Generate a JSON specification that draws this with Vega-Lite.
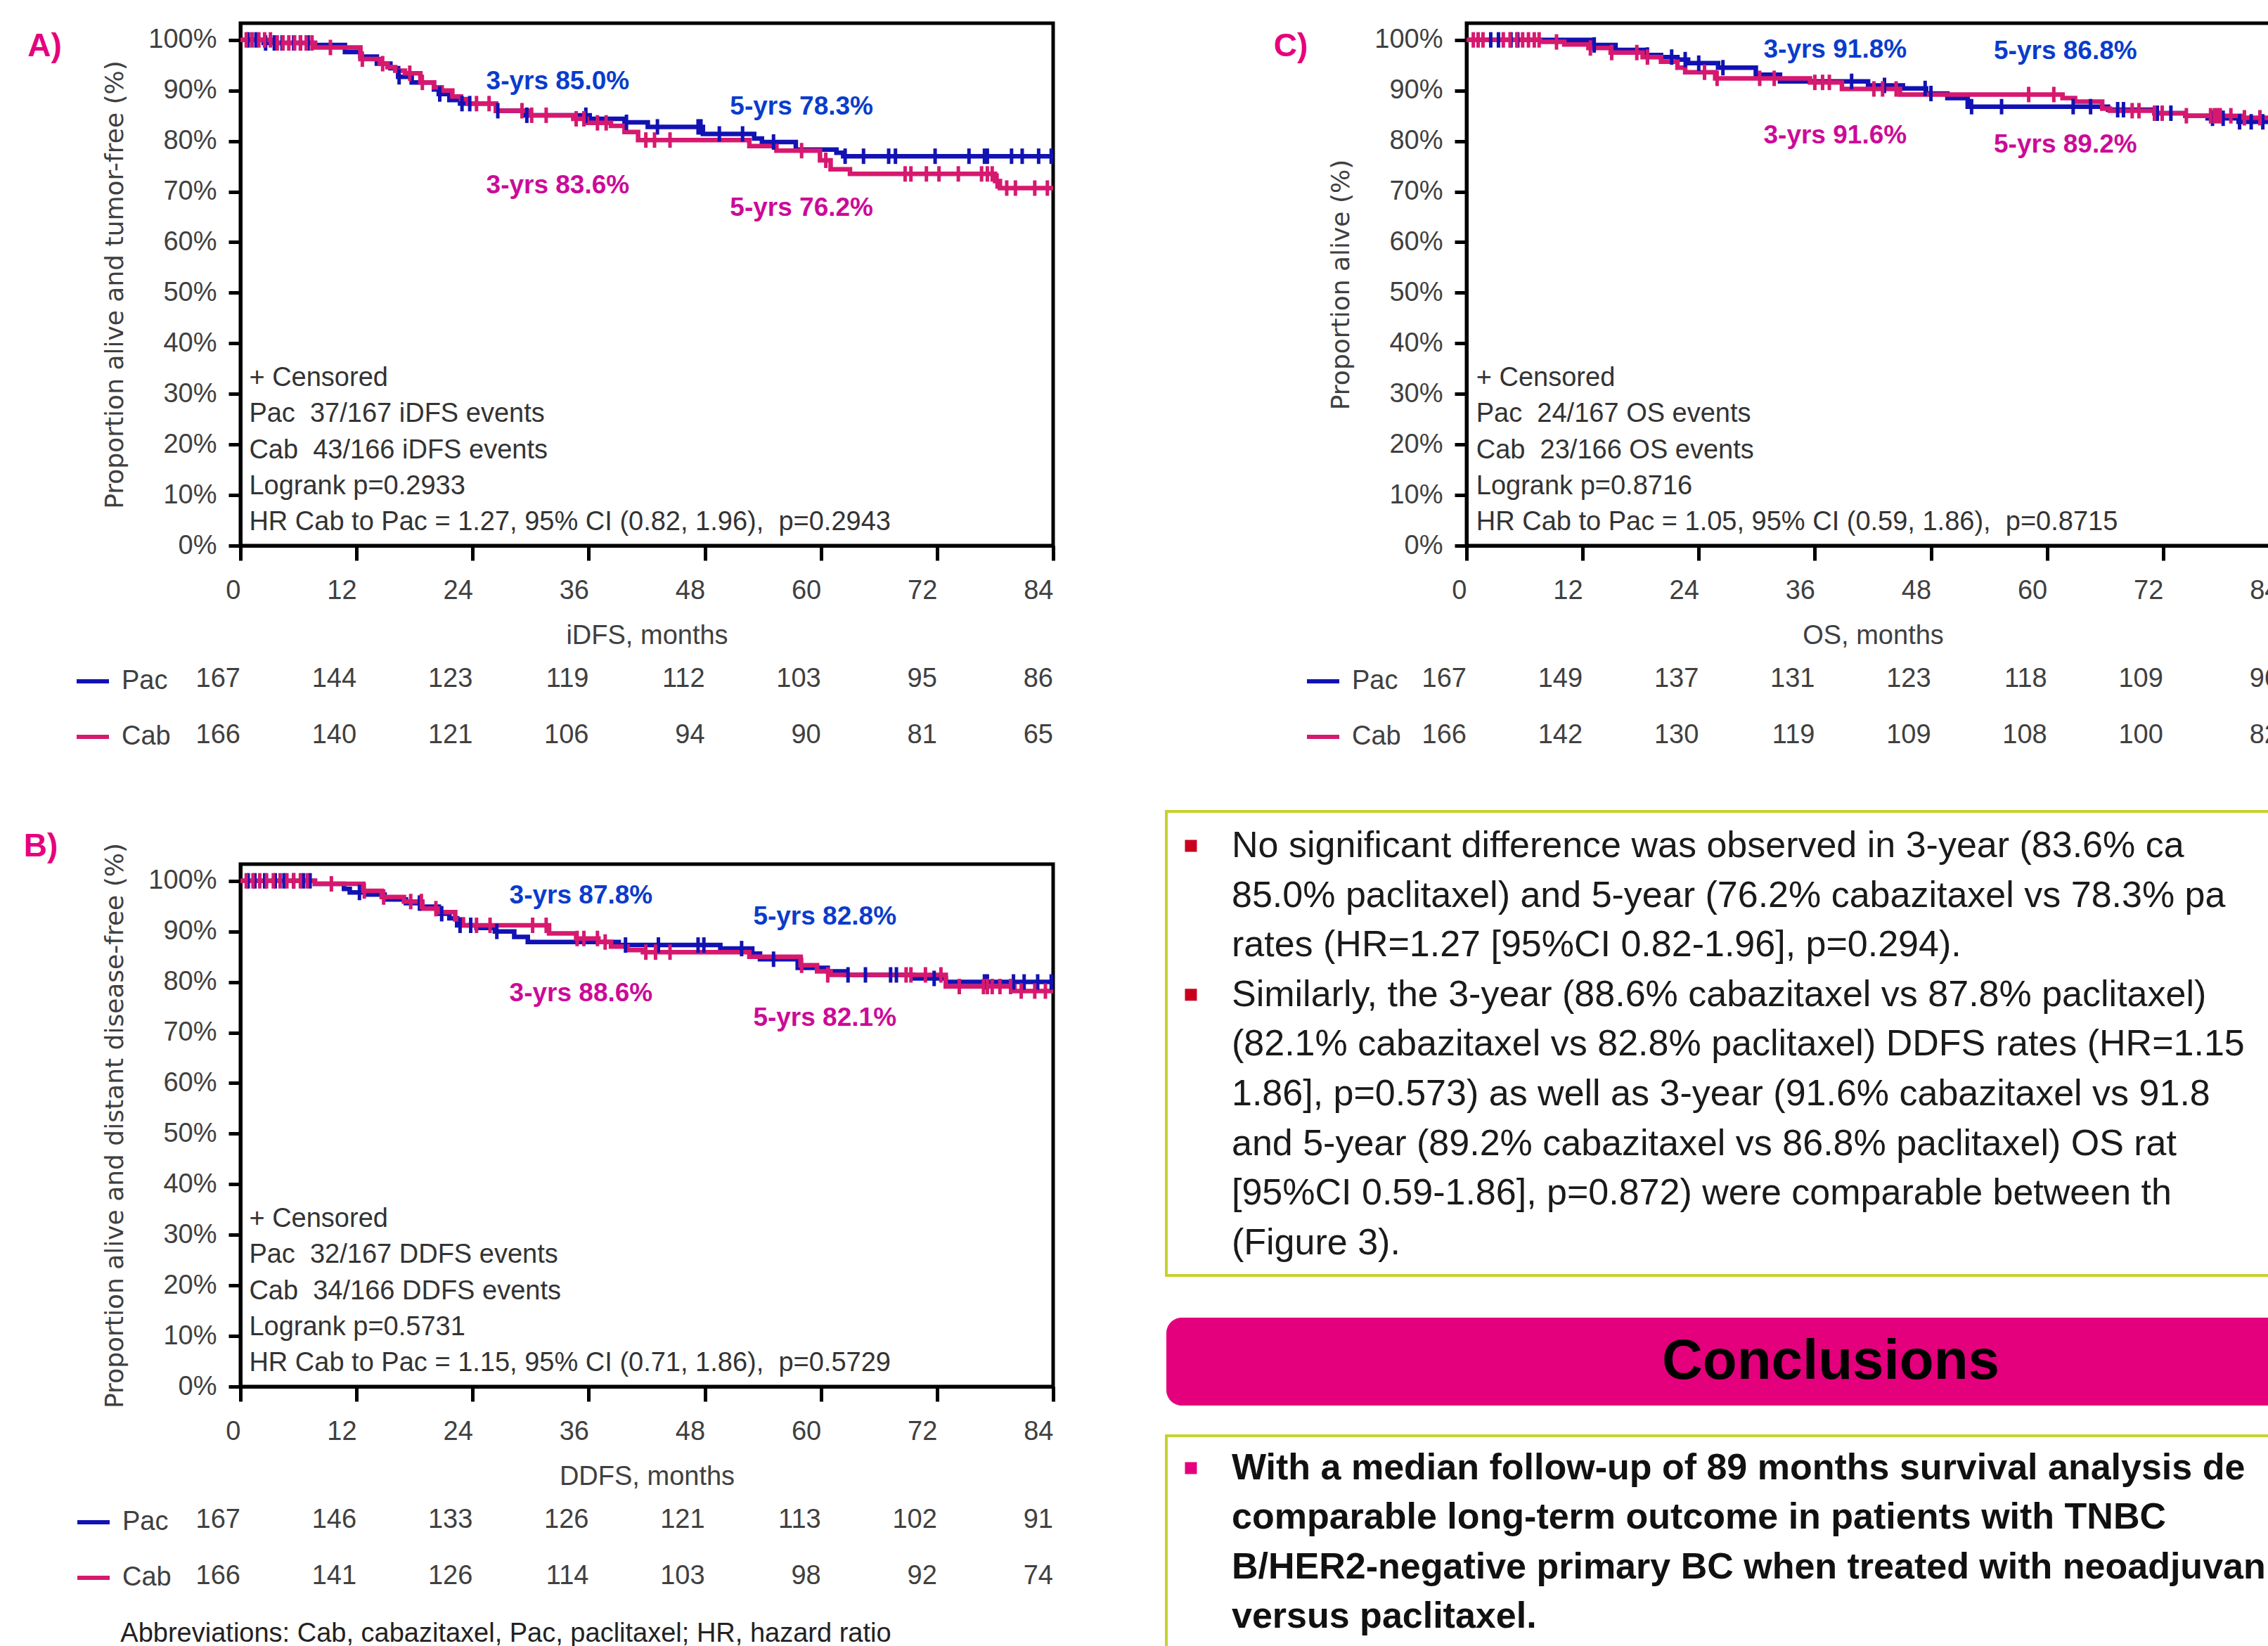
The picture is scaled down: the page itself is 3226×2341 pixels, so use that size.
{
  "$schema": "https://vega.github.io/schema/vega-lite/v6.json",
  "background": "white",
  "padding": {"left": 31, "top": 30, "right": 0, "bottom": 0},
  "config": {"view": {"stroke": null}},
  "datasets": {
    "km": [
      {"p":"A","arm":"Pac","t":0,"s":100},{"p":"A","arm":"Pac","t":2.4,"s":99.4},{"p":"A","arm":"Pac","t":7.7,"s":99.0},{"p":"A","arm":"Pac","t":10.8,"s":97.6},{"p":"A","arm":"Pac","t":12.4,"s":96.7},{"p":"A","arm":"Pac","t":14.1,"s":95.3},{"p":"A","arm":"Pac","t":15.5,"s":94.4},{"p":"A","arm":"Pac","t":16.3,"s":92.7},{"p":"A","arm":"Pac","t":17.7,"s":91.6},{"p":"A","arm":"Pac","t":20.0,"s":90.2},{"p":"A","arm":"Pac","t":20.5,"s":89.3},{"p":"A","arm":"Pac","t":21.6,"s":88.1},{"p":"A","arm":"Pac","t":22.7,"s":87.4},{"p":"A","arm":"Pac","t":26.4,"s":86.0},{"p":"A","arm":"Pac","t":29.4,"s":85.1},{"p":"A","arm":"Pac","t":36.1,"s":84.4},{"p":"A","arm":"Pac","t":39.7,"s":83.7},{"p":"A","arm":"Pac","t":42.1,"s":82.8},{"p":"A","arm":"Pac","t":47.8,"s":81.4},{"p":"A","arm":"Pac","t":53.1,"s":80.5},{"p":"A","arm":"Pac","t":53.9,"s":79.8},{"p":"A","arm":"Pac","t":57.4,"s":78.3},{"p":"A","arm":"Pac","t":61.6,"s":77.7},{"p":"A","arm":"Pac","t":62.3,"s":77.0},{"p":"A","arm":"Pac","t":84,"s":77.0},
      {"p":"A","arm":"Cab","t":0,"s":100},{"p":"A","arm":"Cab","t":3.5,"s":99.4},{"p":"A","arm":"Cab","t":7.7,"s":98.5},{"p":"A","arm":"Cab","t":12.4,"s":96.2},{"p":"A","arm":"Cab","t":14.4,"s":95.3},{"p":"A","arm":"Cab","t":15.2,"s":94.6},{"p":"A","arm":"Cab","t":16.0,"s":93.9},{"p":"A","arm":"Cab","t":17.0,"s":93.4},{"p":"A","arm":"Cab","t":18.6,"s":91.6},{"p":"A","arm":"Cab","t":20.0,"s":90.6},{"p":"A","arm":"Cab","t":20.8,"s":90.0},{"p":"A","arm":"Cab","t":21.9,"s":88.8},{"p":"A","arm":"Cab","t":22.8,"s":88.3},{"p":"A","arm":"Cab","t":23.5,"s":87.4},{"p":"A","arm":"Cab","t":26.4,"s":86.0},{"p":"A","arm":"Cab","t":29.7,"s":85.1},{"p":"A","arm":"Cab","t":34.4,"s":84.4},{"p":"A","arm":"Cab","t":35.8,"s":83.6},{"p":"A","arm":"Cab","t":38.3,"s":83.0},{"p":"A","arm":"Cab","t":39.7,"s":81.8},{"p":"A","arm":"Cab","t":41.1,"s":80.2},{"p":"A","arm":"Cab","t":52.6,"s":79.0},{"p":"A","arm":"Cab","t":55.4,"s":78.1},{"p":"A","arm":"Cab","t":59.9,"s":76.2},{"p":"A","arm":"Cab","t":61.0,"s":74.4},{"p":"A","arm":"Cab","t":63.0,"s":73.5},{"p":"A","arm":"Cab","t":78.0,"s":72.1},{"p":"A","arm":"Cab","t":78.5,"s":70.7},{"p":"A","arm":"Cab","t":84,"s":70.7},
      {"p":"B","arm":"Pac","t":0,"s":100},{"p":"B","arm":"Pac","t":7.7,"s":99.4},{"p":"B","arm":"Pac","t":10.7,"s":98.4},{"p":"B","arm":"Pac","t":11.3,"s":97.7},{"p":"B","arm":"Pac","t":12.9,"s":97.3},{"p":"B","arm":"Pac","t":14.9,"s":96.3},{"p":"B","arm":"Pac","t":17.1,"s":95.6},{"p":"B","arm":"Pac","t":18.8,"s":94.9},{"p":"B","arm":"Pac","t":20.5,"s":93.5},{"p":"B","arm":"Pac","t":21.6,"s":92.6},{"p":"B","arm":"Pac","t":22.4,"s":91.2},{"p":"B","arm":"Pac","t":24.4,"s":90.7},{"p":"B","arm":"Pac","t":26.3,"s":90.0},{"p":"B","arm":"Pac","t":28.3,"s":88.9},{"p":"B","arm":"Pac","t":29.7,"s":87.9},{"p":"B","arm":"Pac","t":39.1,"s":87.3},{"p":"B","arm":"Pac","t":49.6,"s":86.6},{"p":"B","arm":"Pac","t":52.9,"s":85.6},{"p":"B","arm":"Pac","t":53.7,"s":84.5},{"p":"B","arm":"Pac","t":57.6,"s":82.8},{"p":"B","arm":"Pac","t":60.7,"s":82.1},{"p":"B","arm":"Pac","t":62.6,"s":81.4},{"p":"B","arm":"Pac","t":69.6,"s":80.7},{"p":"B","arm":"Pac","t":72.9,"s":80.0},{"p":"B","arm":"Pac","t":84,"s":80.0},
      {"p":"B","arm":"Cab","t":0,"s":100},{"p":"B","arm":"Cab","t":7.7,"s":99.4},{"p":"B","arm":"Cab","t":12.7,"s":98.0},{"p":"B","arm":"Cab","t":14.6,"s":96.8},{"p":"B","arm":"Cab","t":16.9,"s":95.9},{"p":"B","arm":"Cab","t":18.8,"s":94.5},{"p":"B","arm":"Cab","t":20.5,"s":93.8},{"p":"B","arm":"Cab","t":22.2,"s":92.4},{"p":"B","arm":"Cab","t":23.0,"s":91.2},{"p":"B","arm":"Cab","t":31.9,"s":89.6},{"p":"B","arm":"Cab","t":34.7,"s":88.6},{"p":"B","arm":"Cab","t":37.0,"s":87.9},{"p":"B","arm":"Cab","t":38.3,"s":87.0},{"p":"B","arm":"Cab","t":40.0,"s":86.3},{"p":"B","arm":"Cab","t":41.6,"s":85.9},{"p":"B","arm":"Cab","t":52.6,"s":85.0},{"p":"B","arm":"Cab","t":57.9,"s":83.3},{"p":"B","arm":"Cab","t":59.6,"s":82.1},{"p":"B","arm":"Cab","t":61.0,"s":81.4},{"p":"B","arm":"Cab","t":72.9,"s":79.1},{"p":"B","arm":"Cab","t":80.0,"s":78.2},{"p":"B","arm":"Cab","t":84,"s":78.2},
      {"p":"C","arm":"Pac","t":0,"s":100},{"p":"C","arm":"Pac","t":12.9,"s":99.0},{"p":"C","arm":"Pac","t":15.4,"s":98.0},{"p":"C","arm":"Pac","t":18.5,"s":97.0},{"p":"C","arm":"Pac","t":20.1,"s":96.6},{"p":"C","arm":"Pac","t":21.8,"s":96.1},{"p":"C","arm":"Pac","t":22.9,"s":95.4},{"p":"C","arm":"Pac","t":26.0,"s":94.5},{"p":"C","arm":"Pac","t":29.9,"s":93.1},{"p":"C","arm":"Pac","t":32.4,"s":91.8},{"p":"C","arm":"Pac","t":41.5,"s":91.0},{"p":"C","arm":"Pac","t":45.1,"s":90.4},{"p":"C","arm":"Pac","t":47.5,"s":89.4},{"p":"C","arm":"Pac","t":49.7,"s":88.5},{"p":"C","arm":"Pac","t":51.8,"s":86.8},{"p":"C","arm":"Pac","t":66.3,"s":86.2},{"p":"C","arm":"Pac","t":71.1,"s":85.5},{"p":"C","arm":"Pac","t":74.3,"s":85.0},{"p":"C","arm":"Pac","t":76.6,"s":84.5},{"p":"C","arm":"Pac","t":79.8,"s":83.8},{"p":"C","arm":"Pac","t":84,"s":83.8},
      {"p":"C","arm":"Cab","t":0,"s":100},{"p":"C","arm":"Cab","t":7.6,"s":99.6},{"p":"C","arm":"Cab","t":10.1,"s":99.1},{"p":"C","arm":"Cab","t":12.6,"s":98.4},{"p":"C","arm":"Cab","t":14.9,"s":97.5},{"p":"C","arm":"Cab","t":18.2,"s":96.6},{"p":"C","arm":"Cab","t":20.1,"s":95.7},{"p":"C","arm":"Cab","t":21.8,"s":94.5},{"p":"C","arm":"Cab","t":22.6,"s":93.6},{"p":"C","arm":"Cab","t":25.7,"s":92.4},{"p":"C","arm":"Cab","t":35.5,"s":91.6},{"p":"C","arm":"Cab","t":38.8,"s":90.3},{"p":"C","arm":"Cab","t":44.8,"s":89.2},{"p":"C","arm":"Cab","t":61.6,"s":88.5},{"p":"C","arm":"Cab","t":62.9,"s":87.8},{"p":"C","arm":"Cab","t":65.7,"s":86.4},{"p":"C","arm":"Cab","t":66.5,"s":86.0},{"p":"C","arm":"Cab","t":71.1,"s":85.5},{"p":"C","arm":"Cab","t":74.3,"s":85.0},{"p":"C","arm":"Cab","t":80.0,"s":84.6},{"p":"C","arm":"Cab","t":84,"s":84.6}
    ],
    "cens": [
      {"p":"A","arm":"Pac","t":0.8,"s":100},{"p":"A","arm":"Pac","t":1.6,"s":100},{"p":"A","arm":"Pac","t":2.6,"s":99.4},{"p":"A","arm":"Pac","t":3.5,"s":99.4},{"p":"A","arm":"Pac","t":4.3,"s":99.4},{"p":"A","arm":"Pac","t":5.5,"s":99.4},{"p":"A","arm":"Pac","t":6.2,"s":99.4},{"p":"A","arm":"Pac","t":7.0,"s":99.4},{"p":"A","arm":"Pac","t":16.4,"s":92.7},{"p":"A","arm":"Pac","t":20.6,"s":89.3},{"p":"A","arm":"Pac","t":22.9,"s":87.4},{"p":"A","arm":"Pac","t":23.7,"s":87.4},{"p":"A","arm":"Pac","t":26.6,"s":86.0},{"p":"A","arm":"Pac","t":29.6,"s":85.1},{"p":"A","arm":"Pac","t":35.7,"s":85.1},{"p":"A","arm":"Pac","t":39.9,"s":83.7},{"p":"A","arm":"Pac","t":43.1,"s":82.8},{"p":"A","arm":"Pac","t":47.3,"s":82.8},{"p":"A","arm":"Pac","t":47.6,"s":82.8},{"p":"A","arm":"Pac","t":49.5,"s":81.4},{"p":"A","arm":"Pac","t":51.9,"s":81.4},{"p":"A","arm":"Pac","t":55.1,"s":79.8},{"p":"A","arm":"Pac","t":62.5,"s":77.0},{"p":"A","arm":"Pac","t":64.4,"s":77.0},{"p":"A","arm":"Pac","t":67.0,"s":77.0},{"p":"A","arm":"Pac","t":67.7,"s":77.0},{"p":"A","arm":"Pac","t":71.8,"s":77.0},{"p":"A","arm":"Pac","t":75.3,"s":77.0},{"p":"A","arm":"Pac","t":76.9,"s":77.0},{"p":"A","arm":"Pac","t":77.2,"s":77.0},{"p":"A","arm":"Pac","t":79.7,"s":77.0},{"p":"A","arm":"Pac","t":80.8,"s":77.0},{"p":"A","arm":"Pac","t":82.5,"s":77.0},{"p":"A","arm":"Pac","t":83.8,"s":77.0},
      {"p":"A","arm":"Cab","t":0.6,"s":100},{"p":"A","arm":"Cab","t":1.2,"s":100},{"p":"A","arm":"Cab","t":1.9,"s":100},{"p":"A","arm":"Cab","t":2.5,"s":100},{"p":"A","arm":"Cab","t":3.1,"s":100},{"p":"A","arm":"Cab","t":3.8,"s":99.4},{"p":"A","arm":"Cab","t":4.4,"s":99.4},{"p":"A","arm":"Cab","t":5.0,"s":99.4},{"p":"A","arm":"Cab","t":5.6,"s":99.4},{"p":"A","arm":"Cab","t":6.2,"s":99.4},{"p":"A","arm":"Cab","t":6.8,"s":99.4},{"p":"A","arm":"Cab","t":7.4,"s":99.4},{"p":"A","arm":"Cab","t":9.3,"s":98.5},{"p":"A","arm":"Cab","t":12.6,"s":96.2},{"p":"A","arm":"Cab","t":14.7,"s":95.3},{"p":"A","arm":"Cab","t":17.5,"s":93.4},{"p":"A","arm":"Cab","t":18.8,"s":91.6},{"p":"A","arm":"Cab","t":24.4,"s":87.4},{"p":"A","arm":"Cab","t":25.7,"s":87.4},{"p":"A","arm":"Cab","t":29.1,"s":86.0},{"p":"A","arm":"Cab","t":30.1,"s":85.1},{"p":"A","arm":"Cab","t":31.6,"s":85.1},{"p":"A","arm":"Cab","t":34.7,"s":84.4},{"p":"A","arm":"Cab","t":35.5,"s":84.4},{"p":"A","arm":"Cab","t":36.9,"s":83.6},{"p":"A","arm":"Cab","t":37.8,"s":83.6},{"p":"A","arm":"Cab","t":41.9,"s":80.2},{"p":"A","arm":"Cab","t":42.8,"s":80.2},{"p":"A","arm":"Cab","t":44.4,"s":80.2},{"p":"A","arm":"Cab","t":58.0,"s":78.1},{"p":"A","arm":"Cab","t":60.5,"s":76.2},{"p":"A","arm":"Cab","t":68.7,"s":73.5},{"p":"A","arm":"Cab","t":69.3,"s":73.5},{"p":"A","arm":"Cab","t":70.9,"s":73.5},{"p":"A","arm":"Cab","t":72.2,"s":73.5},{"p":"A","arm":"Cab","t":74.2,"s":73.5},{"p":"A","arm":"Cab","t":76.6,"s":73.5},{"p":"A","arm":"Cab","t":77.2,"s":73.5},{"p":"A","arm":"Cab","t":77.7,"s":73.5},{"p":"A","arm":"Cab","t":78.2,"s":72.1},{"p":"A","arm":"Cab","t":79.2,"s":70.7},{"p":"A","arm":"Cab","t":80.1,"s":70.7},{"p":"A","arm":"Cab","t":82.1,"s":70.7},{"p":"A","arm":"Cab","t":83.4,"s":70.7},
      {"p":"B","arm":"Pac","t":0.8,"s":100},{"p":"B","arm":"Pac","t":1.5,"s":100},{"p":"B","arm":"Pac","t":2.5,"s":100},{"p":"B","arm":"Pac","t":3.6,"s":100},{"p":"B","arm":"Pac","t":4.5,"s":100},{"p":"B","arm":"Pac","t":5.5,"s":100},{"p":"B","arm":"Pac","t":6.5,"s":100},{"p":"B","arm":"Pac","t":7.2,"s":100},{"p":"B","arm":"Pac","t":12.3,"s":97.7},{"p":"B","arm":"Pac","t":18.5,"s":95.6},{"p":"B","arm":"Pac","t":20.8,"s":93.5},{"p":"B","arm":"Pac","t":22.7,"s":91.2},{"p":"B","arm":"Pac","t":23.8,"s":91.2},{"p":"B","arm":"Pac","t":26.5,"s":90.0},{"p":"B","arm":"Pac","t":39.8,"s":87.3},{"p":"B","arm":"Pac","t":43.2,"s":87.3},{"p":"B","arm":"Pac","t":47.3,"s":87.3},{"p":"B","arm":"Pac","t":47.9,"s":87.3},{"p":"B","arm":"Pac","t":51.8,"s":86.6},{"p":"B","arm":"Pac","t":55.1,"s":84.5},{"p":"B","arm":"Pac","t":62.8,"s":81.4},{"p":"B","arm":"Pac","t":64.6,"s":81.4},{"p":"B","arm":"Pac","t":67.2,"s":81.4},{"p":"B","arm":"Pac","t":67.8,"s":81.4},{"p":"B","arm":"Pac","t":71.7,"s":80.7},{"p":"B","arm":"Pac","t":76.9,"s":80.0},{"p":"B","arm":"Pac","t":77.2,"s":80.0},{"p":"B","arm":"Pac","t":79.9,"s":80.0},{"p":"B","arm":"Pac","t":81.0,"s":80.0},{"p":"B","arm":"Pac","t":82.4,"s":80.0},{"p":"B","arm":"Pac","t":83.8,"s":80.0},
      {"p":"B","arm":"Cab","t":0.6,"s":100},{"p":"B","arm":"Cab","t":1.3,"s":100},{"p":"B","arm":"Cab","t":2.0,"s":100},{"p":"B","arm":"Cab","t":2.7,"s":100},{"p":"B","arm":"Cab","t":3.4,"s":100},{"p":"B","arm":"Cab","t":4.1,"s":100},{"p":"B","arm":"Cab","t":4.8,"s":100},{"p":"B","arm":"Cab","t":5.5,"s":100},{"p":"B","arm":"Cab","t":6.2,"s":100},{"p":"B","arm":"Cab","t":6.9,"s":100},{"p":"B","arm":"Cab","t":9.4,"s":99.4},{"p":"B","arm":"Cab","t":12.8,"s":98.0},{"p":"B","arm":"Cab","t":14.8,"s":96.8},{"p":"B","arm":"Cab","t":17.6,"s":95.9},{"p":"B","arm":"Cab","t":18.7,"s":95.9},{"p":"B","arm":"Cab","t":20.2,"s":94.5},{"p":"B","arm":"Cab","t":24.4,"s":91.2},{"p":"B","arm":"Cab","t":25.8,"s":91.2},{"p":"B","arm":"Cab","t":30.2,"s":91.2},{"p":"B","arm":"Cab","t":31.6,"s":91.2},{"p":"B","arm":"Cab","t":34.8,"s":88.6},{"p":"B","arm":"Cab","t":35.5,"s":88.6},{"p":"B","arm":"Cab","t":36.9,"s":88.6},{"p":"B","arm":"Cab","t":37.7,"s":87.9},{"p":"B","arm":"Cab","t":41.9,"s":85.9},{"p":"B","arm":"Cab","t":42.9,"s":85.9},{"p":"B","arm":"Cab","t":44.4,"s":85.9},{"p":"B","arm":"Cab","t":58.0,"s":83.3},{"p":"B","arm":"Cab","t":60.7,"s":81.4},{"p":"B","arm":"Cab","t":68.8,"s":81.4},{"p":"B","arm":"Cab","t":69.3,"s":81.4},{"p":"B","arm":"Cab","t":70.8,"s":81.4},{"p":"B","arm":"Cab","t":72.4,"s":81.4},{"p":"B","arm":"Cab","t":74.3,"s":79.1},{"p":"B","arm":"Cab","t":76.8,"s":79.1},{"p":"B","arm":"Cab","t":77.2,"s":79.1},{"p":"B","arm":"Cab","t":77.7,"s":79.1},{"p":"B","arm":"Cab","t":78.5,"s":79.1},{"p":"B","arm":"Cab","t":79.6,"s":79.1},{"p":"B","arm":"Cab","t":80.7,"s":78.2},{"p":"B","arm":"Cab","t":82.1,"s":78.2},{"p":"B","arm":"Cab","t":83.2,"s":78.2},
      {"p":"C","arm":"Pac","t":2.5,"s":100},{"p":"C","arm":"Pac","t":3.3,"s":100},{"p":"C","arm":"Pac","t":4.6,"s":100},{"p":"C","arm":"Pac","t":5.3,"s":100},{"p":"C","arm":"Pac","t":13.2,"s":99.0},{"p":"C","arm":"Pac","t":18.7,"s":97.0},{"p":"C","arm":"Pac","t":21.2,"s":96.6},{"p":"C","arm":"Pac","t":22.6,"s":96.1},{"p":"C","arm":"Pac","t":24.0,"s":95.4},{"p":"C","arm":"Pac","t":26.5,"s":94.5},{"p":"C","arm":"Pac","t":39.8,"s":91.8},{"p":"C","arm":"Pac","t":43.2,"s":91.0},{"p":"C","arm":"Pac","t":47.4,"s":90.4},{"p":"C","arm":"Pac","t":48.0,"s":89.4},{"p":"C","arm":"Pac","t":52.2,"s":86.8},{"p":"C","arm":"Pac","t":55.3,"s":86.8},{"p":"C","arm":"Pac","t":62.7,"s":86.8},{"p":"C","arm":"Pac","t":64.5,"s":86.8},{"p":"C","arm":"Pac","t":67.3,"s":86.2},{"p":"C","arm":"Pac","t":67.9,"s":86.2},{"p":"C","arm":"Pac","t":71.4,"s":85.5},{"p":"C","arm":"Pac","t":72.8,"s":85.5},{"p":"C","arm":"Pac","t":77.1,"s":84.5},{"p":"C","arm":"Pac","t":78.2,"s":84.5},{"p":"C","arm":"Pac","t":79.9,"s":83.8},{"p":"C","arm":"Pac","t":81.1,"s":83.8},{"p":"C","arm":"Pac","t":82.3,"s":83.8},{"p":"C","arm":"Pac","t":83.5,"s":83.8},
      {"p":"C","arm":"Cab","t":0.7,"s":100},{"p":"C","arm":"Cab","t":1.2,"s":100},{"p":"C","arm":"Cab","t":1.7,"s":100},{"p":"C","arm":"Cab","t":3.8,"s":100},{"p":"C","arm":"Cab","t":4.5,"s":100},{"p":"C","arm":"Cab","t":5.2,"s":100},{"p":"C","arm":"Cab","t":5.8,"s":100},{"p":"C","arm":"Cab","t":6.4,"s":100},{"p":"C","arm":"Cab","t":7.0,"s":100},{"p":"C","arm":"Cab","t":7.5,"s":100},{"p":"C","arm":"Cab","t":9.3,"s":99.6},{"p":"C","arm":"Cab","t":12.8,"s":98.4},{"p":"C","arm":"Cab","t":15.0,"s":97.5},{"p":"C","arm":"Cab","t":17.6,"s":97.5},{"p":"C","arm":"Cab","t":18.7,"s":96.6},{"p":"C","arm":"Cab","t":24.6,"s":93.6},{"p":"C","arm":"Cab","t":25.9,"s":92.4},{"p":"C","arm":"Cab","t":30.3,"s":92.4},{"p":"C","arm":"Cab","t":31.8,"s":92.4},{"p":"C","arm":"Cab","t":36.0,"s":91.6},{"p":"C","arm":"Cab","t":36.8,"s":91.6},{"p":"C","arm":"Cab","t":37.5,"s":91.6},{"p":"C","arm":"Cab","t":42.1,"s":90.3},{"p":"C","arm":"Cab","t":43.0,"s":90.3},{"p":"C","arm":"Cab","t":44.4,"s":90.3},{"p":"C","arm":"Cab","t":58.1,"s":89.2},{"p":"C","arm":"Cab","t":60.7,"s":89.2},{"p":"C","arm":"Cab","t":68.8,"s":86.0},{"p":"C","arm":"Cab","t":69.5,"s":86.0},{"p":"C","arm":"Cab","t":71.1,"s":85.5},{"p":"C","arm":"Cab","t":71.9,"s":85.5},{"p":"C","arm":"Cab","t":74.4,"s":85.0},{"p":"C","arm":"Cab","t":76.9,"s":85.0},{"p":"C","arm":"Cab","t":77.3,"s":85.0},{"p":"C","arm":"Cab","t":77.6,"s":85.0},{"p":"C","arm":"Cab","t":77.9,"s":85.0},{"p":"C","arm":"Cab","t":79.0,"s":85.0},{"p":"C","arm":"Cab","t":80.4,"s":84.6},{"p":"C","arm":"Cab","t":82.0,"s":84.6},{"p":"C","arm":"Cab","t":83.5,"s":84.6}
    ],
    "risk": [
      {"p":"A","arm":"Pac","t":0,"n":167},{"p":"A","arm":"Pac","t":12,"n":144},{"p":"A","arm":"Pac","t":24,"n":123},{"p":"A","arm":"Pac","t":36,"n":119},{"p":"A","arm":"Pac","t":48,"n":112},{"p":"A","arm":"Pac","t":60,"n":103},{"p":"A","arm":"Pac","t":72,"n":95},{"p":"A","arm":"Pac","t":84,"n":86},
      {"p":"A","arm":"Cab","t":0,"n":166},{"p":"A","arm":"Cab","t":12,"n":140},{"p":"A","arm":"Cab","t":24,"n":121},{"p":"A","arm":"Cab","t":36,"n":106},{"p":"A","arm":"Cab","t":48,"n":94},{"p":"A","arm":"Cab","t":60,"n":90},{"p":"A","arm":"Cab","t":72,"n":81},{"p":"A","arm":"Cab","t":84,"n":65},
      {"p":"B","arm":"Pac","t":0,"n":167},{"p":"B","arm":"Pac","t":12,"n":146},{"p":"B","arm":"Pac","t":24,"n":133},{"p":"B","arm":"Pac","t":36,"n":126},{"p":"B","arm":"Pac","t":48,"n":121},{"p":"B","arm":"Pac","t":60,"n":113},{"p":"B","arm":"Pac","t":72,"n":102},{"p":"B","arm":"Pac","t":84,"n":91},
      {"p":"B","arm":"Cab","t":0,"n":166},{"p":"B","arm":"Cab","t":12,"n":141},{"p":"B","arm":"Cab","t":24,"n":126},{"p":"B","arm":"Cab","t":36,"n":114},{"p":"B","arm":"Cab","t":48,"n":103},{"p":"B","arm":"Cab","t":60,"n":98},{"p":"B","arm":"Cab","t":72,"n":92},{"p":"B","arm":"Cab","t":84,"n":74},
      {"p":"C","arm":"Pac","t":0,"n":167},{"p":"C","arm":"Pac","t":12,"n":149},{"p":"C","arm":"Pac","t":24,"n":137},{"p":"C","arm":"Pac","t":36,"n":131},{"p":"C","arm":"Pac","t":48,"n":123},{"p":"C","arm":"Pac","t":60,"n":118},{"p":"C","arm":"Pac","t":72,"n":109},{"p":"C","arm":"Pac","t":84,"n":96},
      {"p":"C","arm":"Cab","t":0,"n":166},{"p":"C","arm":"Cab","t":12,"n":142},{"p":"C","arm":"Cab","t":24,"n":130},{"p":"C","arm":"Cab","t":36,"n":119},{"p":"C","arm":"Cab","t":48,"n":109},{"p":"C","arm":"Cab","t":60,"n":108},{"p":"C","arm":"Cab","t":72,"n":100},{"p":"C","arm":"Cab","t":84,"n":82}
    ],
    "ann": [
      {"p":"A","arm":"Pac","t":25.4,"s":91.7,"txt":"3-yrs 85.0%"},{"p":"A","arm":"Cab","t":25.4,"s":71.25,"txt":"3-yrs 83.6%"},{"p":"A","arm":"Pac","t":50.6,"s":86.8,"txt":"5-yrs 78.3%"},{"p":"A","arm":"Cab","t":50.6,"s":66.8,"txt":"5-yrs 76.2%"},
      {"p":"B","arm":"Pac","t":27.8,"s":97.1,"txt":"3-yrs 87.8%"},{"p":"B","arm":"Cab","t":27.8,"s":77.7,"txt":"3-yrs 88.6%"},{"p":"B","arm":"Pac","t":53.0,"s":92.9,"txt":"5-yrs 82.8%"},{"p":"B","arm":"Cab","t":53.0,"s":72.9,"txt":"5-yrs 82.1%"},
      {"p":"C","arm":"Pac","t":30.7,"s":98.0,"txt":"3-yrs 91.8%"},{"p":"C","arm":"Cab","t":30.7,"s":81.0,"txt":"3-yrs 91.6%"},{"p":"C","arm":"Pac","t":54.5,"s":97.7,"txt":"5-yrs 86.8%"},{"p":"C","arm":"Cab","t":54.5,"s":79.2,"txt":"5-yrs 89.2%"}
    ],
    "stats": [
      {"p":"A","t":0.9,"s":33.1,"txt":"+ Censored"},{"p":"A","t":0.9,"s":26.0,"txt":"Pac\u00a0 37/167 iDFS events"},{"p":"A","t":0.9,"s":18.8,"txt":"Cab\u00a0 43/166 iDFS events"},{"p":"A","t":0.9,"s":11.7,"txt":"Logrank p=0.2933"},{"p":"A","t":0.9,"s":4.6,"txt":"HR Cab to Pac = 1.27, 95% CI (0.82, 1.96),\u00a0 p=0.2943"},
      {"p":"B","t":0.9,"s":33.1,"txt":"+ Censored"},{"p":"B","t":0.9,"s":26.0,"txt":"Pac\u00a0 32/167 DDFS events"},{"p":"B","t":0.9,"s":18.8,"txt":"Cab\u00a0 34/166 DDFS events"},{"p":"B","t":0.9,"s":11.7,"txt":"Logrank p=0.5731"},{"p":"B","t":0.9,"s":4.6,"txt":"HR Cab to Pac = 1.15, 95% CI (0.71, 1.86),\u00a0 p=0.5729"},
      {"p":"C","t":1.0,"s":33.1,"txt":"+ Censored"},{"p":"C","t":1.0,"s":26.0,"txt":"Pac\u00a0 24/167 OS events"},{"p":"C","t":1.0,"s":18.8,"txt":"Cab\u00a0 23/166 OS events"},{"p":"C","t":1.0,"s":11.7,"txt":"Logrank p=0.8716"},{"p":"C","t":1.0,"s":4.6,"txt":"HR Cab to Pac = 1.05, 95% CI (0.59, 1.86),\u00a0 p=0.8715"}
    ],
    "letters": [
      {"p":"A","t":-22.0,"s":98.75,"txt":"A)"},{"p":"B","t":-22.4,"s":106.8,"txt":"B)"},{"p":"C","t":-19.93,"s":98.75,"txt":"C)"}
    ],
    "foot": [
      {"p":"B","t":-12.4,"s":-48.9,"txt":"Abbreviations: Cab, cabazitaxel, Pac, paclitaxel; HR, hazard ratio"}
    ],
    "box1": [
      {"line":1,"bullet":true,"txt":"No significant difference was observed in 3-year (83.6% ca"},
      {"line":2,"bullet":false,"txt":"85.0% paclitaxel) and 5-year (76.2% cabazitaxel vs 78.3% pa"},
      {"line":3,"bullet":false,"txt":"rates (HR=1.27 [95%CI 0.82-1.96], p=0.294)."},
      {"line":4,"bullet":true,"txt":"Similarly, the 3-year (88.6% cabazitaxel vs 87.8% paclitaxel)"},
      {"line":5,"bullet":false,"txt":"(82.1% cabazitaxel vs 82.8% paclitaxel) DDFS rates (HR=1.15"},
      {"line":6,"bullet":false,"txt":"1.86], p=0.573) as well as 3-year (91.6% cabazitaxel vs 91.8"},
      {"line":7,"bullet":false,"txt":"and 5-year (89.2% cabazitaxel vs 86.8% paclitaxel) OS rat"},
      {"line":8,"bullet":false,"txt":"[95%CI 0.59-1.86], p=0.872) were comparable between th"},
      {"line":9,"bullet":false,"txt":"(Figure 3)."}
    ],
    "box2": [
      {"line":1,"bullet":true,"txt":"With a median follow-up of 89 months survival analysis de"},
      {"line":2,"bullet":false,"txt":"comparable long-term outcome in patients with TNBC"},
      {"line":3,"bullet":false,"txt":"B/HER2-negative primary BC when treated with neoadjuvan"},
      {"line":4,"bullet":false,"txt":"versus paclitaxel."}
    ]
  },
  "resolve": {"scale": {"color": "independent"}, "legend": {"color": "independent"}},
  "spacing": 82,
  "vconcat": [
    {
      "resolve": {"scale": {"color": "independent"}, "legend": {"color": "independent"}},
      "spacing": 295,
      "hconcat": [
        {
          "width": 1156, "height": 743,
          "view": {"stroke": "#000000", "strokeWidth": 5},
          "resolve": {"scale": {"y": "independent"}, "axis": {"y": "independent"}},
          "layer": [
            {
              "layer": [
                {"data": {"name": "km"}, "transform": [{"filter": "datum.p == 'A'"}],
                 "mark": {"type": "line", "interpolate": "step-after", "strokeWidth": 6.5},
                 "encoding": {
                   "x": {"field": "t", "type": "quantitative", "scale": {"domain": [0, 84], "nice": false, "zero": false},
                         "axis": {"values": [0,12,24,36,48,60,72,84], "title": "iDFS, months", "grid": false, "tickSize": 21, "tickWidth": 5, "tickColor": "#000000", "domainColor": "#000000", "domainWidth": 5, "labelAlign": "right", "labelFlush": false, "labelOverlap": false, "labelFont": "Liberation Sans", "labelFontSize": 38, "labelColor": "#404040", "labelPadding": 24, "titleFont": "Liberation Sans", "titleFontSize": 38, "titleFontWeight": "normal", "titleColor": "#404040", "titlePadding": 26}},
                   "y": {"field": "s", "type": "quantitative", "scale": {"domain": [0, 103.3], "nice": false},
                         "axis": {"values": [0,10,20,30,40,50,60,70,80,90,100], "labelExpr": "datum.value + '%'", "title": "Proportion alive and tumor-free (%)", "grid": false, "tickSize": 17, "tickWidth": 5, "tickColor": "#000000", "domainColor": "#000000", "domainWidth": 5, "labelFlush": false, "labelOverlap": false, "labelFont": "Liberation Sans", "labelFontSize": 38, "labelColor": "#404040", "labelPadding": 17, "titleFont": "DejaVu Sans", "titleFontSize": 36, "titleFontWeight": "normal", "titleColor": "#404040", "titlePadding": 28}},
                   "color": {"field": "arm", "type": "nominal", "scale": {"domain": ["Pac", "Cab"], "range": ["#1212b4", "#d6196f"]},
                             "legend": {"orient": "none", "legendX": -236, "legendY": 910, "title": null, "direction": "vertical", "symbolType": "stroke", "symbolSize": 2116, "symbolStrokeWidth": 6, "labelFont": "Liberation Sans", "labelFontSize": 38, "labelColor": "#404040", "labelOffset": 15, "rowPadding": 34, "padding": 0}}
                 }},
                {"data": {"name": "cens"}, "transform": [{"filter": "datum.p == 'A' && datum.arm == 'Pac'"}],
                 "mark": {"type": "tick", "orient": "vertical", "size": 22, "thickness": 5, "color": "#1212b4", "opacity": 1},
                 "encoding": {"x": {"field": "t", "type": "quantitative"}, "y": {"field": "s", "type": "quantitative"}}},
                {"data": {"name": "cens"}, "transform": [{"filter": "datum.p == 'A' && datum.arm == 'Cab'"}],
                 "mark": {"type": "tick", "orient": "vertical", "size": 22, "thickness": 5, "color": "#d6196f", "opacity": 1},
                 "encoding": {"x": {"field": "t", "type": "quantitative"}, "y": {"field": "s", "type": "quantitative"}}},
                {"data": {"name": "ann"}, "transform": [{"filter": "datum.p == 'A' && datum.arm == 'Pac'"}],
                 "mark": {"type": "text", "align": "left", "baseline": "middle", "font": "Liberation Sans", "fontWeight": "bold", "fontSize": 37, "color": "#0a3ccc"},
                 "encoding": {"x": {"field": "t", "type": "quantitative"}, "y": {"field": "s", "type": "quantitative"}, "text": {"field": "txt"}}},
                {"data": {"name": "ann"}, "transform": [{"filter": "datum.p == 'A' && datum.arm == 'Cab'"}],
                 "mark": {"type": "text", "align": "left", "baseline": "middle", "font": "Liberation Sans", "fontWeight": "bold", "fontSize": 37, "color": "#cc0a99"},
                 "encoding": {"x": {"field": "t", "type": "quantitative"}, "y": {"field": "s", "type": "quantitative"}, "text": {"field": "txt"}}},
                {"data": {"name": "stats"}, "transform": [{"filter": "datum.p == 'A'"}],
                 "mark": {"type": "text", "align": "left", "baseline": "middle", "font": "Liberation Sans", "fontSize": 38, "color": "#333333"},
                 "encoding": {"x": {"field": "t", "type": "quantitative"}, "y": {"field": "s", "type": "quantitative"}, "text": {"field": "txt"}}},
                {"data": {"name": "letters"}, "transform": [{"filter": "datum.p == 'A'"}],
                 "mark": {"type": "text", "align": "left", "baseline": "middle", "font": "Liberation Sans", "fontWeight": "bold", "fontSize": 46, "color": "#e6007e"},
                 "encoding": {"x": {"field": "t", "type": "quantitative"}, "y": {"field": "s", "type": "quantitative"}, "text": {"field": "txt"}}}
              ]
            },
            {"data": {"name": "risk"}, "transform": [{"filter": "datum.p == 'A'"}],
             "mark": {"type": "text", "align": "right", "baseline": "middle", "font": "Liberation Sans", "fontSize": 38, "color": "#404040"},
             "encoding": {
               "x": {"field": "t", "type": "quantitative"},
               "y": {"field": "arm", "type": "nominal", "scale": {"type": "point", "domain": ["Pac", "Cab"], "range": [933, 1013], "padding": 0}, "axis": null},
               "text": {"field": "n", "type": "quantitative"}
             }}
          ]
        },
        {
          "width": 1156, "height": 743,
          "view": {"stroke": "#000000", "strokeWidth": 5},
          "resolve": {"scale": {"y": "independent"}, "axis": {"y": "independent"}},
          "layer": [
            {
              "layer": [
                {"data": {"name": "km"}, "transform": [{"filter": "datum.p == 'C'"}],
                 "mark": {"type": "line", "interpolate": "step-after", "strokeWidth": 6.5},
                 "encoding": {
                   "x": {"field": "t", "type": "quantitative", "scale": {"domain": [0, 84], "nice": false, "zero": false},
                         "axis": {"values": [0,12,24,36,48,60,72,84], "title": "OS, months", "grid": false, "tickSize": 21, "tickWidth": 5, "tickColor": "#000000", "domainColor": "#000000", "domainWidth": 5, "labelAlign": "right", "labelFlush": false, "labelOverlap": false, "labelFont": "Liberation Sans", "labelFontSize": 38, "labelColor": "#404040", "labelPadding": 24, "titleFont": "Liberation Sans", "titleFontSize": 38, "titleFontWeight": "normal", "titleColor": "#404040", "titlePadding": 26}},
                   "y": {"field": "s", "type": "quantitative", "scale": {"domain": [0, 103.3], "nice": false},
                         "axis": {"values": [0,10,20,30,40,50,60,70,80,90,100], "labelExpr": "datum.value + '%'", "title": "Proportion alive (%)", "grid": false, "tickSize": 17, "tickWidth": 5, "tickColor": "#000000", "domainColor": "#000000", "domainWidth": 5, "labelFlush": false, "labelOverlap": false, "labelFont": "Liberation Sans", "labelFontSize": 38, "labelColor": "#404040", "labelPadding": 17, "titleFont": "DejaVu Sans", "titleFontSize": 36, "titleFontWeight": "normal", "titleColor": "#404040", "titlePadding": 28}},
                   "color": {"field": "arm", "type": "nominal", "scale": {"domain": ["Pac", "Cab"], "range": ["#1212b4", "#d6196f"]},
                             "legend": {"orient": "none", "legendX": -230, "legendY": 910, "title": null, "direction": "vertical", "symbolType": "stroke", "symbolSize": 2116, "symbolStrokeWidth": 6, "labelFont": "Liberation Sans", "labelFontSize": 38, "labelColor": "#404040", "labelOffset": 15, "rowPadding": 34, "padding": 0}}
                 }},
                {"data": {"name": "cens"}, "transform": [{"filter": "datum.p == 'C' && datum.arm == 'Pac'"}],
                 "mark": {"type": "tick", "orient": "vertical", "size": 22, "thickness": 5, "color": "#1212b4", "opacity": 1},
                 "encoding": {"x": {"field": "t", "type": "quantitative"}, "y": {"field": "s", "type": "quantitative"}}},
                {"data": {"name": "cens"}, "transform": [{"filter": "datum.p == 'C' && datum.arm == 'Cab'"}],
                 "mark": {"type": "tick", "orient": "vertical", "size": 22, "thickness": 5, "color": "#d6196f", "opacity": 1},
                 "encoding": {"x": {"field": "t", "type": "quantitative"}, "y": {"field": "s", "type": "quantitative"}}},
                {"data": {"name": "ann"}, "transform": [{"filter": "datum.p == 'C' && datum.arm == 'Pac'"}],
                 "mark": {"type": "text", "align": "left", "baseline": "middle", "font": "Liberation Sans", "fontWeight": "bold", "fontSize": 37, "color": "#0a3ccc"},
                 "encoding": {"x": {"field": "t", "type": "quantitative"}, "y": {"field": "s", "type": "quantitative"}, "text": {"field": "txt"}}},
                {"data": {"name": "ann"}, "transform": [{"filter": "datum.p == 'C' && datum.arm == 'Cab'"}],
                 "mark": {"type": "text", "align": "left", "baseline": "middle", "font": "Liberation Sans", "fontWeight": "bold", "fontSize": 37, "color": "#cc0a99"},
                 "encoding": {"x": {"field": "t", "type": "quantitative"}, "y": {"field": "s", "type": "quantitative"}, "text": {"field": "txt"}}},
                {"data": {"name": "stats"}, "transform": [{"filter": "datum.p == 'C'"}],
                 "mark": {"type": "text", "align": "left", "baseline": "middle", "font": "Liberation Sans", "fontSize": 38, "color": "#333333"},
                 "encoding": {"x": {"field": "t", "type": "quantitative"}, "y": {"field": "s", "type": "quantitative"}, "text": {"field": "txt"}}},
                {"data": {"name": "letters"}, "transform": [{"filter": "datum.p == 'C'"}],
                 "mark": {"type": "text", "align": "left", "baseline": "middle", "font": "Liberation Sans", "fontWeight": "bold", "fontSize": 46, "color": "#e6007e"},
                 "encoding": {"x": {"field": "t", "type": "quantitative"}, "y": {"field": "s", "type": "quantitative"}, "text": {"field": "txt"}}}
              ]
            },
            {"data": {"name": "risk"}, "transform": [{"filter": "datum.p == 'C'"}],
             "mark": {"type": "text", "align": "right", "baseline": "middle", "font": "Liberation Sans", "fontSize": 38, "color": "#404040"},
             "encoding": {
               "x": {"field": "t", "type": "quantitative"},
               "y": {"field": "arm", "type": "nominal", "scale": {"type": "point", "domain": ["Pac", "Cab"], "range": [933, 1013], "padding": 0}, "axis": null},
               "text": {"field": "n", "type": "quantitative"}
             }}
          ]
        }
      ]
    },
    {
      "resolve": {"scale": {"color": "independent"}, "legend": {"color": "independent"}},
      "spacing": 143,
      "hconcat": [
        {
          "resolve": {"scale": {"color": "independent"}, "legend": {"color": "independent"}},
          "spacing": 23,
          "vconcat": [
            {"width": 10, "height": 1, "data": {"values": [{}]}, "mark": {"type": "point", "opacity": 0, "size": 0}},
            {
              "width": 1156, "height": 743,
              "view": {"stroke": "#000000", "strokeWidth": 5},
              "resolve": {"scale": {"y": "independent"}, "axis": {"y": "independent"}},
              "layer": [
                {
                  "layer": [
                    {"data": {"name": "km"}, "transform": [{"filter": "datum.p == 'B'"}],
                     "mark": {"type": "line", "interpolate": "step-after", "strokeWidth": 6.5},
                     "encoding": {
                       "x": {"field": "t", "type": "quantitative", "scale": {"domain": [0, 84], "nice": false, "zero": false},
                             "axis": {"values": [0,12,24,36,48,60,72,84], "title": "DDFS, months", "grid": false, "tickSize": 21, "tickWidth": 5, "tickColor": "#000000", "domainColor": "#000000", "domainWidth": 5, "labelAlign": "right", "labelFlush": false, "labelOverlap": false, "labelFont": "Liberation Sans", "labelFontSize": 38, "labelColor": "#404040", "labelPadding": 24, "titleFont": "Liberation Sans", "titleFontSize": 38, "titleFontWeight": "normal", "titleColor": "#404040", "titlePadding": 26}},
                       "y": {"field": "s", "type": "quantitative", "scale": {"domain": [0, 103.3], "nice": false},
                             "axis": {"values": [0,10,20,30,40,50,60,70,80,90,100], "labelExpr": "datum.value + '%'", "title": "Proportion alive and distant disease-free (%)", "grid": false, "tickSize": 17, "tickWidth": 5, "tickColor": "#000000", "domainColor": "#000000", "domainWidth": 5, "labelFlush": false, "labelOverlap": false, "labelFont": "Liberation Sans", "labelFontSize": 38, "labelColor": "#404040", "labelPadding": 17, "titleFont": "DejaVu Sans", "titleFontSize": 36, "titleFontWeight": "normal", "titleColor": "#404040", "titlePadding": 28}},
                       "color": {"field": "arm", "type": "nominal", "scale": {"domain": ["Pac", "Cab"], "range": ["#1212b4", "#d6196f"]},
                                 "legend": {"orient": "none", "legendX": -235, "legendY": 910, "title": null, "direction": "vertical", "symbolType": "stroke", "symbolSize": 2116, "symbolStrokeWidth": 6, "labelFont": "Liberation Sans", "labelFontSize": 38, "labelColor": "#404040", "labelOffset": 15, "rowPadding": 34, "padding": 0}}
                     }},
                    {"data": {"name": "cens"}, "transform": [{"filter": "datum.p == 'B' && datum.arm == 'Pac'"}],
                     "mark": {"type": "tick", "orient": "vertical", "size": 22, "thickness": 5, "color": "#1212b4", "opacity": 1},
                     "encoding": {"x": {"field": "t", "type": "quantitative"}, "y": {"field": "s", "type": "quantitative"}}},
                    {"data": {"name": "cens"}, "transform": [{"filter": "datum.p == 'B' && datum.arm == 'Cab'"}],
                     "mark": {"type": "tick", "orient": "vertical", "size": 22, "thickness": 5, "color": "#d6196f", "opacity": 1},
                     "encoding": {"x": {"field": "t", "type": "quantitative"}, "y": {"field": "s", "type": "quantitative"}}},
                    {"data": {"name": "ann"}, "transform": [{"filter": "datum.p == 'B' && datum.arm == 'Pac'"}],
                     "mark": {"type": "text", "align": "left", "baseline": "middle", "font": "Liberation Sans", "fontWeight": "bold", "fontSize": 37, "color": "#0a3ccc"},
                     "encoding": {"x": {"field": "t", "type": "quantitative"}, "y": {"field": "s", "type": "quantitative"}, "text": {"field": "txt"}}},
                    {"data": {"name": "ann"}, "transform": [{"filter": "datum.p == 'B' && datum.arm == 'Cab'"}],
                     "mark": {"type": "text", "align": "left", "baseline": "middle", "font": "Liberation Sans", "fontWeight": "bold", "fontSize": 37, "color": "#cc0a99"},
                     "encoding": {"x": {"field": "t", "type": "quantitative"}, "y": {"field": "s", "type": "quantitative"}, "text": {"field": "txt"}}},
                    {"data": {"name": "stats"}, "transform": [{"filter": "datum.p == 'B'"}],
                     "mark": {"type": "text", "align": "left", "baseline": "middle", "font": "Liberation Sans", "fontSize": 38, "color": "#333333"},
                     "encoding": {"x": {"field": "t", "type": "quantitative"}, "y": {"field": "s", "type": "quantitative"}, "text": {"field": "txt"}}},
                    {"data": {"name": "letters"}, "transform": [{"filter": "datum.p == 'B'"}],
                     "mark": {"type": "text", "align": "left", "baseline": "middle", "font": "Liberation Sans", "fontWeight": "bold", "fontSize": 46, "color": "#e6007e"},
                     "encoding": {"x": {"field": "t", "type": "quantitative"}, "y": {"field": "s", "type": "quantitative"}, "text": {"field": "txt"}}},
                    {"data": {"name": "foot"},
                     "mark": {"type": "text", "align": "left", "baseline": "middle", "font": "Liberation Sans", "fontSize": 38, "color": "#222222"},
                     "encoding": {"x": {"field": "t", "type": "quantitative"}, "y": {"field": "s", "type": "quantitative"}, "text": {"field": "txt"}}}
                  ]
                },
                {"data": {"name": "risk"}, "transform": [{"filter": "datum.p == 'B'"}],
                 "mark": {"type": "text", "align": "right", "baseline": "middle", "font": "Liberation Sans", "fontSize": 38, "color": "#404040"},
                 "encoding": {
                   "x": {"field": "t", "type": "quantitative"},
                   "y": {"field": "arm", "type": "nominal", "scale": {"type": "point", "domain": ["Pac", "Cab"], "range": [933, 1013], "padding": 0}, "axis": null},
                   "text": {"field": "n", "type": "quantitative"}
                 }}
              ]
            }
          ]
        },
        {
          "spacing": 58,
          "vconcat": [
            {
              "width": 1890, "height": 660,
              "view": {"stroke": "#c5d22e", "strokeWidth": 4},
              "data": {"name": "box1"},
              "layer": [
                {"mark": {"type": "text", "align": "left", "baseline": "middle", "font": "Liberation Sans", "fontSize": 52, "color": "#1a1a1a"},
                 "encoding": {
                   "x": {"datum": 4.92, "type": "quantitative", "scale": {"domain": [0, 100], "nice": false, "zero": false}, "axis": null},
                   "y": {"field": "line", "type": "quantitative", "scale": {"domain": [0.306, 9.654], "reverse": true, "nice": false, "zero": false}, "axis": null},
                   "text": {"field": "txt"}
                 }},
                {"transform": [{"filter": "datum.bullet"}],
                 "mark": {"type": "square", "color": "#c8001e", "filled": true, "opacity": 1, "size": 289},
                 "encoding": {
                   "x": {"datum": 1.85, "type": "quantitative"},
                   "y": {"field": "line", "type": "quantitative"}
                 }}
              ]
            },
            {
              "spacing": 41,
              "vconcat": [
                {
                  "width": 1890, "height": 125,
                  "view": {"fill": "#e4007c", "stroke": null, "cornerRadius": 22},
                  "data": {"values": [{"txt": "Conclusions"}]},
                  "mark": {"type": "text", "align": "center", "baseline": "middle", "font": "Liberation Sans", "fontWeight": "bold", "fontSize": 80, "color": "#000000"},
                  "encoding": {"text": {"field": "txt"}}
                },
                {
                  "width": 1890, "height": 360,
                  "view": {"stroke": "#c5d22e", "strokeWidth": 4},
                  "data": {"name": "box2"},
                  "layer": [
                    {"mark": {"type": "text", "align": "left", "baseline": "middle", "font": "Liberation Sans", "fontWeight": "bold", "fontSize": 52, "color": "#111111"},
                     "encoding": {
                       "x": {"datum": 4.92, "type": "quantitative", "scale": {"domain": [0, 100], "nice": false, "zero": false}, "axis": null},
                       "y": {"field": "line", "type": "quantitative", "scale": {"domain": [0.347, 5.46], "reverse": true, "nice": false, "zero": false}, "axis": null},
                       "text": {"field": "txt"}
                     }},
                    {"transform": [{"filter": "datum.bullet"}],
                     "mark": {"type": "square", "color": "#e4007c", "filled": true, "opacity": 1, "size": 289},
                     "encoding": {
                       "x": {"datum": 1.85, "type": "quantitative"},
                       "y": {"field": "line", "type": "quantitative"}
                     }}
                  ]
                }
              ]
            }
          ]
        }
      ]
    }
  ]
}
